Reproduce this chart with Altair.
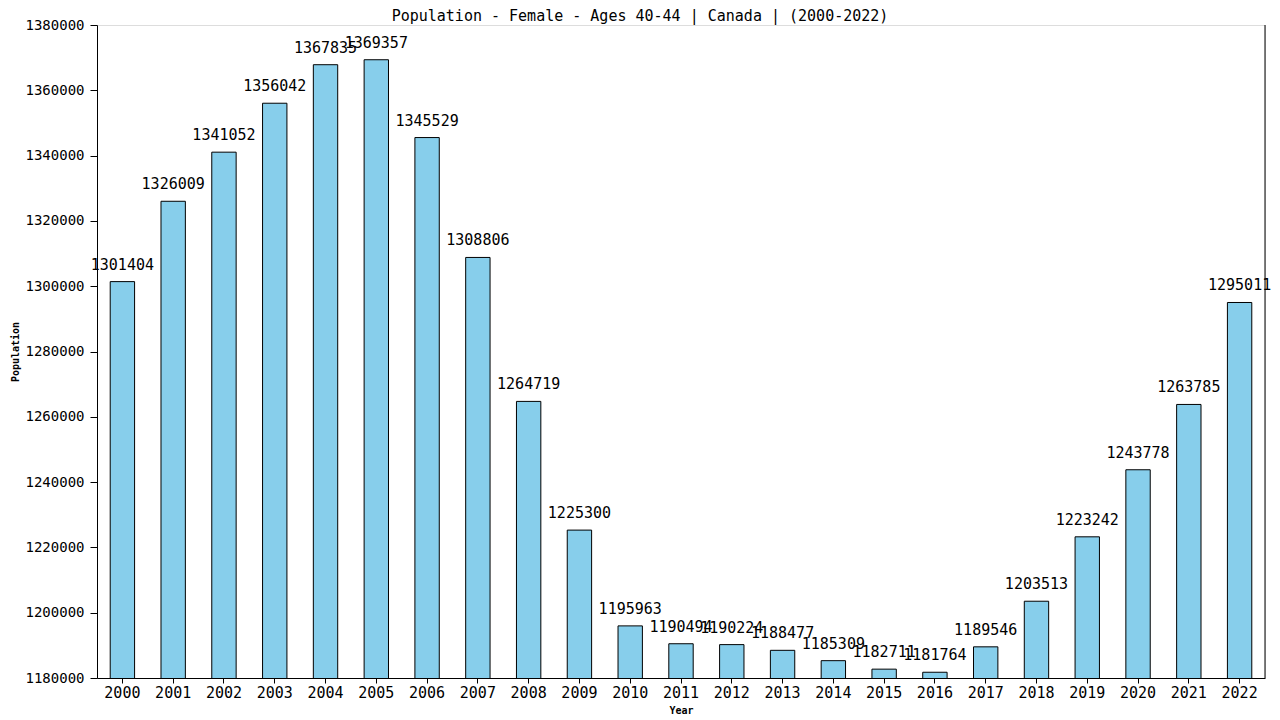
import altair as alt
import pandas as pd

years = [str(y) for y in range(2000, 2023)]
values = [1301404, 1326009, 1341052, 1356042, 1367835, 1369357, 1345529, 1308806,
          1264719, 1225300, 1195963, 1190494, 1190224, 1188477, 1185309, 1182711,
          1181764, 1189546, 1203513, 1223242, 1243778, 1263785, 1295011]

df = pd.DataFrame({"Year": years, "Population": values})

FONT = "DejaVu Sans Mono"
W, H = 1168, 653
ydom = [1180000, 1380000]
yscale = alt.Scale(domain=ydom, zero=False, nice=False)

base = alt.Chart(df)

bars = base.mark_bar(color="#87CEEB", stroke="black", strokeWidth=1, clip=True).encode(
    x=alt.X("Year:N", title="Year",
            scale=alt.Scale(paddingInner=0.52, paddingOuter=0.26),
            axis=alt.Axis(labelAngle=0, labelFont=FONT, labelFontSize=15, labelColor="black",
                          titleFont=FONT, titleFontSize=10, titleFontWeight="bold",
                          titleColor="black",
                          domainColor="black", tickColor="black", tickSize=5,
                          labelPadding=2, titlePadding=5)),
    y=alt.Y("Population:Q", title="Population", scale=yscale,
            axis=alt.Axis(values=list(range(1180000, 1380001, 20000)), format="d",
                          labelFont=FONT, labelFontSize=14, labelColor="black",
                          titleFont=FONT, titleFontSize=10, titleFontWeight="bold",
                          titleColor="black",
                          domainColor="black", tickColor="black", tickSize=7,
                          grid=False, labelPadding=6, titlePadding=4)),
)

labels = base.mark_text(font=FONT, fontSize=15, color="black", dy=-9, baseline="bottom").encode(
    x="Year:N",
    y=alt.Y("Population:Q", scale=yscale),
    text=alt.Text("Population:Q", format="d"),
)

# right frame line of the plot area
frame = alt.Chart(pd.DataFrame({"a": [0]})).mark_rule(color="black", strokeWidth=1).encode(
    x=alt.value(W), y=alt.value(0), y2=alt.value(H)
)

chart = alt.layer(bars, labels, frame).properties(
    width=W, height=H,
    autosize=alt.AutoSizeParams(type="none"),
    padding={"left": 89, "top": 17, "right": 7, "bottom": 40},
    title=alt.Title("Population - Female - Ages 40-44 | Canada |  (2000-2022)",
                    font=FONT, fontSize=15, fontWeight="normal", color="black",
                    anchor="middle", dx=-41, offset=-6),
).configure_view(stroke="transparent", strokeWidth=0
).configure(background="white")

chart.save("out.html", embed_options={"renderer": "svg", "actions": False})
